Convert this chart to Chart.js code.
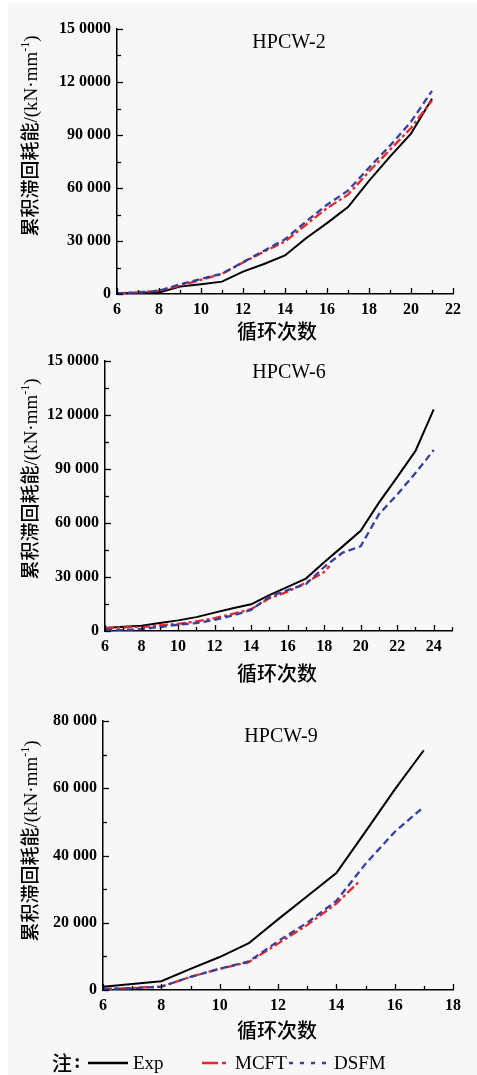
<!DOCTYPE html>
<html>
<head>
<meta charset="utf-8">
<script src="https://cdn.jsdelivr.net/npm/chart.js@4.4.1/dist/chart.umd.min.js"></script>
<style>
  body { margin: 0; background: #fff; }
  #wrap { position: relative; width: 477px; height: 1075px; }
  #bg { position: absolute; left: 8px; top: 3px; right: 0; bottom: 0; background: #f7f7f7; }
  canvas { position: absolute; left: 0; }
</style>
</head>
<body>
<div id="wrap">
  <div id="bg"></div>
  <canvas id="c1" width="477" height="345" style="top:0"></canvas>
  <canvas id="c2" width="477" height="345" style="top:345px"></canvas>
  <canvas id="c3" width="477" height="385" style="top:690px"></canvas>
</div>
<script>
'use strict';

// ---- data ----
let seriesNames = ['Exp', 'MCFT', 'DSFM'];

// HPCW-2
let cyc2 = [6, 7, 8, 9, 10, 11, 12, 13, 14, 15, 16, 17, 18, 19, 20, 21];
let exp2 = [400, 500, 800, 4200, 5500, 7000, 12700, 17000, 21800, 31600, 40100, 49200, 64000, 77800, 90800, 110500];
let mcft2 = [400, 1000, 1900, 4700, 8000, 11400, 17800, 24000, 29700, 39200, 48600, 56200, 69300, 81600, 94000, 109500];
let dsfm2 = [300, 800, 1800, 5500, 8500, 11500, 18000, 24500, 31000, 41000, 50500, 58500, 71500, 84000, 97500, 115000];

// HPCW-6
let cyc6 = [6, 7, 8, 9, 10, 11, 12, 13, 14, 15, 16, 17, 18, 19, 20, 21, 22, 23, 24];
let exp6 = [1650, 2300, 2900, 4400, 5900, 7700, 10200, 12600, 14800, 19900, 24500, 29100, 38200, 46800, 55600, 71200, 85400, 99900, 122900];
let cyc6Mcft = [6, 7, 8, 9, 10, 11, 12, 13, 14, 15, 16, 17, 18, 18.3];
let mcft6 = [1600, 2000, 2200, 3100, 4000, 5300, 7100, 9500, 12100, 18100, 21800, 26800, 32700, 36000];
let dsfm6 = [700, 400, 1100, 2200, 3500, 4400, 6200, 8600, 11700, 19000, 22700, 26000, 35500, 43400, 47000, 64800, 75700, 87600, 100400];

// HPCW-9
let cyc9 = [6, 7, 8, 9, 10, 11, 12, 13, 14, 15, 16, 17];
let exp9 = [1000, 1800, 2600, 6300, 9800, 13900, 21000, 27900, 34800, 47100, 59600, 71300];
let cyc9Mcft = [6, 7, 8, 9, 10, 11, 12, 13, 14, 14.8];
let mcft9 = [300, 600, 1000, 3900, 6300, 8300, 13800, 19300, 25700, 32400];
let dsfm9 = [300, 500, 1000, 3900, 6300, 8500, 14500, 20000, 26500, 37500, 47000, 54500];

// tick labels
let xLabels2 = [6, 8, 10, 12, 14, 16, 18, 20, 22];
let xLabels6 = [6, 8, 10, 12, 14, 16, 18, 20, 22, 24];
let xLabels9 = [6, 8, 10, 12, 14, 16, 18];
let yVals15 = [0, 30000, 60000, 90000, 120000, 150000];
let yLabels15 = ['0', '30 000', '60 000', '90 000', '12 0000', '15 0000'];
let yVals8 = [0, 20000, 40000, 60000, 80000];
let yLabels8 = ['0', '20 000', '40 000', '60 000', '80 000'];

let xTitle = '循环次数';
let yTitleCn = '累积滞回耗能';
let legendNote = '注';

// ---- styles ----
let colors = ['#000000', '#e8262b', '#34409c'];
let dashes = [[], [9, 3, 3, 3], [7, 4]];
let serif = '"Liberation Serif", "Times New Roman", serif';
let cjk = '"Noto Sans CJK SC", sans-serif';

function pts(xs, ys) {
    return xs.map((x, i) => ({ x: x, y: ys[i] }));
}

let decor = {
    id: 'decor',
    afterDraw(chart, args, o) {
        let ctx = chart.ctx;
        let a = chart.chartArea;
        let sx = chart.scales.x;
        let sy = chart.scales.y;
        ctx.save();
        ctx.strokeStyle = '#000';
        ctx.lineWidth = 1.3;
        // inward ticks
        sx.ticks.forEach(t => {
            let p = Math.round(sx.getPixelForValue(t.value)) + 0.5;
            let len = t.label ? 6 : 4;
            ctx.beginPath(); ctx.moveTo(p, a.bottom); ctx.lineTo(p, a.bottom - len); ctx.stroke();
        });
        sy.ticks.forEach(t => {
            let p = Math.round(sy.getPixelForValue(t.value)) + 0.5;
            let len = t.label ? 6 : 4;
            ctx.beginPath(); ctx.moveTo(a.left, p); ctx.lineTo(a.left + len, p); ctx.stroke();
        });

        ctx.fillStyle = '#000';
        ctx.textAlign = 'center';
        ctx.textBaseline = 'middle';
        // panel name
        ctx.font = '20px ' + serif;
        ctx.fillText(o.panel, o.panelX, o.panelY);
        // x title
        ctx.font = '500 20px ' + cjk;
        ctx.fillText(xTitle, o.xtX, o.xtY);

        // y title (rotated, mixed fonts)
        let segs = [
            { t: yTitleCn, f: '500 19px ' + cjk, dy: 0 },
            { t: '/(kN·mm', f: '19px ' + serif, dy: 0 },
            { t: '-1', f: '12px ' + serif, dy: -8 },
            { t: ')', f: '19px ' + serif, dy: 0 }
        ];
        let total = 0;
        segs.forEach(s => { ctx.font = s.f; s.w = ctx.measureText(s.t).width; total += s.w; });
        ctx.translate(o.ytX, o.ytY);
        ctx.rotate(-Math.PI / 2);
        ctx.textAlign = 'left';
        ctx.textBaseline = 'alphabetic';
        let cx = -total / 2;
        segs.forEach(s => {
            ctx.font = s.f;
            ctx.fillText(s.t, cx, 7 + s.dy);
            cx += s.w;
        });
        ctx.restore();

        // legend (bottom panel only)
        if (o.legend) {
            let L = o.legend;
            ctx.save();
            ctx.fillStyle = '#000';
            ctx.textBaseline = 'middle';
            ctx.textAlign = 'left';
            ctx.font = '500 20px ' + cjk;
            ctx.fillText(legendNote, L.noteX, L.y);
            ctx.font = 'bold 20px ' + serif;
            ctx.fillText(':', L.colonX, L.y);
            chart.data.datasets.forEach(ds => {
                let k = seriesNames.indexOf(ds.label);
                let it = L.items[k];
                ctx.strokeStyle = ds.borderColor;
                ctx.lineWidth = 2.6;
                ctx.setLineDash(it.dash);
                ctx.beginPath(); ctx.moveTo(it.x0, L.y); ctx.lineTo(it.x1, L.y); ctx.stroke();
                ctx.setLineDash([]);
                ctx.font = '19px ' + serif;
                ctx.fillText(ds.label, it.tx, L.y + 1);
            });
            ctx.restore();
        }
    }
};

function makeChart(id, cfg) {
    let cv = document.getElementById(id);
    let datasets = [
        { label: seriesNames[0], data: pts(cfg.xs[0], cfg.ys[0]), order: 2, borderWidth: 2 },
        { label: seriesNames[1], data: pts(cfg.xs[1], cfg.ys[1]), order: 1, borderWidth: 2.3 },
        { label: seriesNames[2], data: pts(cfg.xs[2], cfg.ys[2]), order: 0, borderWidth: 2.3 }
    ];
    datasets.forEach((d, i) => {
        d.borderColor = colors[i];
        d.borderDash = dashes[i];
        d.pointRadius = 0;
        d.tension = 0;
        d.fill = false;
    });
    return new Chart(cv.getContext('2d'), {
        type: 'line',
        data: { datasets: datasets },
        options: {
            responsive: false,
            animation: false,
            devicePixelRatio: 1,
            layout: { padding: { left: 0, right: 477 - cfg.area.right, top: cfg.area.top, bottom: 0 } },
            plugins: {
                legend: { display: false },
                tooltip: { enabled: false },
                decor: cfg.decor
            },
            scales: {
                x: {
                    type: 'linear',
                    min: cfg.xMin, max: cfg.xMax,
                    grid: { display: false, drawTicks: false },
                    border: { display: true, color: '#000', width: 1.5 },
                    afterFit: s => { s.height = cv.height - cfg.area.bottom; },
                    ticks: {
                        stepSize: 1, autoSkip: false, maxRotation: 0, padding: 6,
                        color: '#000',
                        font: { family: serif, size: 16, weight: 'bold' },
                        callback: v => cfg.xLabels.includes(v) ? String(v) : ''
                    }
                },
                y: {
                    min: 0, max: cfg.yMax,
                    grid: { display: false, drawTicks: false },
                    border: { display: true, color: '#000', width: 1.5 },
                    afterFit: s => { s.width = cfg.area.left; },
                    ticks: {
                        stepSize: cfg.yStep, autoSkip: false, padding: 6,
                        color: '#000',
                        font: { family: serif, size: 16, weight: 'bold' },
                        callback: v => {
                            let k = cfg.yVals.indexOf(v);
                            return k >= 0 ? cfg.yLabels[k] : '';
                        }
                    }
                }
            }
        },
        plugins: [decor]
    });
}

makeChart('c1', {
    xs: [cyc2, cyc2, cyc2], ys: [exp2, mcft2, dsfm2],
    xMin: 6, xMax: 22, xLabels: xLabels2,
    yMax: 150000, yStep: 15000, yVals: yVals15, yLabels: yLabels15,
    area: { left: 117, right: 453, top: 29, bottom: 294 },
    decor: { panel: 'HPCW-2', panelX: 289, panelY: 43, xtX: 277, xtY: 331, ytX: 30, ytY: 136 }
});

makeChart('c2', {
    xs: [cyc6, cyc6Mcft, cyc6], ys: [exp6, mcft6, dsfm6],
    xMin: 6, xMax: 25, xLabels: xLabels6,
    yMax: 150000, yStep: 15000, yVals: yVals15, yLabels: yLabels15,
    area: { left: 105, right: 452, top: 13, bottom: 286 },
    decor: { panel: 'HPCW-6', panelX: 289, panelY: 28, xtX: 277, xtY: 328, ytX: 30, ytY: 134 }
});

makeChart('c3', {
    xs: [cyc9, cyc9Mcft, cyc9], ys: [exp9, mcft9, dsfm9],
    xMin: 6, xMax: 18, xLabels: xLabels9,
    yMax: 80000, yStep: 10000, yVals: yVals8, yLabels: yLabels8,
    area: { left: 103, right: 453, top: 31, bottom: 300 },
    decor: {
        panel: 'HPCW-9', panelX: 281, panelY: 47, xtX: 277, xtY: 340, ytX: 30, ytY: 151,
        legend: {
            y: 373, noteX: 52, colonX: 74,
            items: [
                { x0: 88, x1: 128, tx: 133, dash: [] },
                { x0: 202, x1: 227, tx: 235, dash: [16, 4, 4, 30] },
                { x0: 289, x1: 328, tx: 334, dash: [4, 7] }
            ]
        }
    }
});
</script>
</body>
</html>
